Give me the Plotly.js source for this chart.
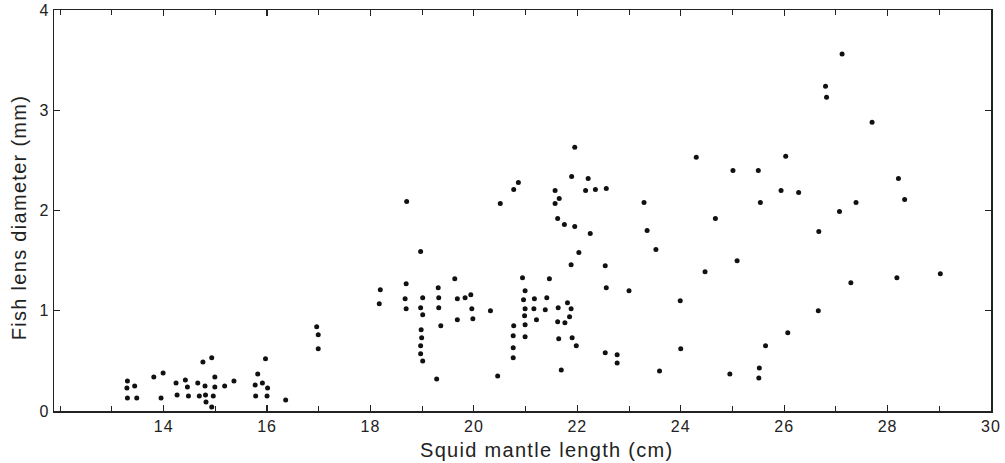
<!DOCTYPE html>
<html>
<head>
<meta charset="utf-8">
<script src="https://cdn.plot.ly/plotly-3.0.1.min.js"></script>
<style>
html,body{margin:0;padding:0;background:#fff;}
#chart{width:1005px;height:463px;}
.annotation-text { letter-spacing: 1.3px; }
.xtick text, .ytick text { letter-spacing: 1px; }
</style>
</head>
<body>
<div id="chart"></div>
<script>
// Squid mantle length (cm)
var mantleLength = [
  13.30,13.29,13.30,13.44,13.48,13.81,13.99,13.95,14.24,14.26,14.42,14.46,14.48,14.66,14.69,14.76,14.93,14.80,14.81,14.99,14.99,14.96,14.82,14.93,15.18,15.36,15.82,15.97,15.77,15.91,16.01,15.78,16.00,16.36,
  16.96,16.99,16.99,
  18.70,18.97,18.19,18.17,18.69,18.67,18.69,19.01,18.97,19.01,18.98,18.99,18.97,18.97,19.01,19.31,19.32,19.32,19.36,19.28,19.63,19.68,19.68,19.83,19.94,19.96,19.98,20.32,20.46,20.51,20.77,20.86,20.94,20.99,20.96,20.99,20.98,20.99,20.99,20.77,20.76,20.76,20.76,21.17,21.16,21.21,21.38,21.41,21.46,
  21.95,21.57,21.65,21.57,21.89,22.21,22.16,22.35,22.56,21.62,21.75,21.95,22.25,22.03,21.88,22.54,22.56,23.00,23.29,23.35,23.52,24.30,23.99,24.00,23.59,21.63,21.81,21.88,21.85,21.76,21.62,21.64,21.90,21.98,21.69,22.54,22.77,22.77,
  25.01,25.50,26.03,25.94,25.54,24.67,25.09,24.47,26.07,25.64,25.52,25.51,24.95,
  27.12,26.80,26.82,27.70,26.28,27.39,28.21,28.33,27.07,26.67,27.29,28.18,29.02,26.66
];
// Fish lens diameter (mm)
var lensDiameter = [
  0.30,0.23,0.13,0.25,0.13,0.34,0.38,0.13,0.28,0.16,0.31,0.24,0.15,0.28,0.15,0.49,0.53,0.25,0.16,0.34,0.24,0.15,0.09,0.04,0.25,0.30,0.37,0.52,0.26,0.28,0.23,0.15,0.15,0.11,
  0.84,0.76,0.62,
  2.09,1.59,1.21,1.07,1.27,1.12,1.02,1.13,1.03,0.96,0.81,0.73,0.65,0.57,0.50,1.23,1.13,1.03,0.85,0.32,1.32,1.12,0.91,1.13,1.16,1.02,0.92,1.00,0.35,2.07,2.21,2.28,1.33,1.20,1.11,1.02,0.95,0.86,0.74,0.85,0.75,0.63,0.53,1.12,1.02,0.91,1.01,1.13,1.32,
  2.63,2.20,2.12,2.07,2.34,2.32,2.20,2.21,2.22,1.92,1.86,1.84,1.77,1.58,1.46,1.45,1.23,1.20,2.08,1.80,1.61,2.53,1.10,0.62,0.40,1.03,1.08,1.02,0.94,0.88,0.89,0.72,0.73,0.65,0.41,0.58,0.56,0.48,
  2.40,2.40,2.54,2.20,2.08,1.92,1.50,1.39,0.78,0.65,0.43,0.33,0.37,
  3.56,3.24,3.13,2.88,2.18,2.08,2.32,2.11,1.99,1.79,1.28,1.33,1.37,1.00
];
var xTickVals = [14,16,18,20,22,24,26,28,30];
var xTickText = ["14","16","18","20","22","24","26","28","30"];
var yTickVals = [0,1,2,3,4];
var yTickText = ["0","1","2","3","4"];
var xTitle = 'Squid mantle length (cm)';
var yTitle = 'Fish lens diameter (mm)';

var trace = {
  x: mantleLength,
  y: lensDiameter,
  mode: 'markers',
  type: 'scatter',
  marker: {color: '#111', size: 5, line: {width: 0}},
  hoverinfo: 'x+y'
};

var fontFam = '"Liberation Sans", Arial, Helvetica, sans-serif';
var axisCommon = {
  ticks: 'inside',
  ticklen: 6,
  tickwidth: 1.2,
  tickcolor: '#222',
  showline: true,
  linecolor: '#222',
  linewidth: 1.5,
  mirror: 'ticks',
  showgrid: false,
  zeroline: false,
  automargin: false,
  tickfont: {size: 16, family: fontFam, color: '#222'}
};
var layout = {
  width: 1005,
  height: 463,
  margin: {l: 54, r: 14, t: 10, b: 52},
  paper_bgcolor: '#fff',
  plot_bgcolor: '#fff',
  showlegend: false,
  font: {family: fontFam, color: '#222', size: 16},
  xaxis: Object.assign({}, axisCommon, {
    range: [11.88, 30],
    tickmode: 'array',
    tickvals: xTickVals,
    ticktext: xTickText,
    minor: {dtick: 1, tick0: 0, ticks: 'inside', ticklen: 5, tickwidth: 1, tickcolor: '#222', showgrid: false}
  }),
  yaxis: Object.assign({}, axisCommon, {
    range: [0, 4],
    tickmode: 'array',
    tickvals: yTickVals,
    ticktext: yTickText
  }),
  annotations: [
    {text: xTitle, xref: 'paper', yref: 'paper', x: 0.526, y: -0.097, xanchor: 'center', yanchor: 'middle',
     showarrow: false, font: {size: 20, family: fontFam, color: '#222'}},
    {text: yTitle, xref: 'paper', yref: 'paper', x: -0.037, y: 0.484, xanchor: 'center', yanchor: 'middle',
     textangle: -90, showarrow: false, font: {size: 20, family: fontFam, color: '#222'}}
  ]
};

Plotly.newPlot('chart', [trace], layout, {displayModeBar: false, staticPlot: true});
</script>
</body>
</html>
